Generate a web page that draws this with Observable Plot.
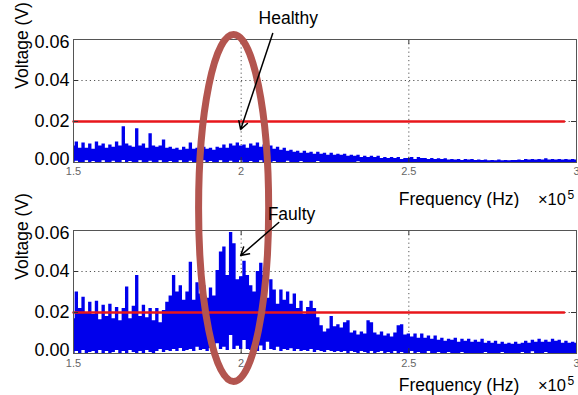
<!DOCTYPE html>
<html><head><meta charset="utf-8">
<script src="https://cdn.jsdelivr.net/npm/d3@7"></script>
<script src="https://cdn.jsdelivr.net/npm/@observablehq/plot@0.6"></script>
<style>
html,body{margin:0;padding:0;background:#fff;}
#chart{position:relative;width:578px;height:395px;overflow:hidden;font-family:"Liberation Sans",Arial,sans-serif;}
#chart svg{position:absolute;left:0;}
</style></head><body><div id="chart"></div>
<script>
// Frequency bins (x10^5 Hz)
const freq = [
1.50,1.51,1.52,1.53,1.54,1.55,1.56,1.57,1.58,1.59,
1.60,1.61,1.62,1.63,1.64,1.65,1.66,1.67,1.68,1.69,
1.70,1.71,1.72,1.73,1.74,1.75,1.76,1.77,1.78,1.79,
1.80,1.81,1.82,1.83,1.84,1.85,1.86,1.87,1.88,1.89,
1.90,1.91,1.92,1.93,1.94,1.95,1.96,1.97,1.98,1.99,
2.00,2.01,2.02,2.03,2.04,2.05,2.06,2.07,2.08,2.09,
2.10,2.11,2.12,2.13,2.14,2.15,2.16,2.17,2.18,2.19,
2.20,2.21,2.22,2.23,2.24,2.25,2.26,2.27,2.28,2.29,
2.30,2.31,2.32,2.33,2.34,2.35,2.36,2.37,2.38,2.39,
2.40,2.41,2.42,2.43,2.44,2.45,2.46,2.47,2.48,2.49,
2.50,2.51,2.52,2.53,2.54,2.55,2.56,2.57,2.58,2.59,
2.60,2.61,2.62,2.63,2.64,2.65,2.66,2.67,2.68,2.69,
2.70,2.71,2.72,2.73,2.74,2.75,2.76,2.77,2.78,2.79,
2.80,2.81,2.82,2.83,2.84,2.85,2.86,2.87,2.88,2.89,
2.90,2.91,2.92,2.93,2.94,2.95,2.96,2.97,2.98,2.99,
3.00];

// Healthy spectrum: upper and lower envelope (mV)
const healthyHigh = [
8,10,7,9.5,7,9,6.5,10,8,9,
7,8.5,7.5,10,8,17.5,9,8,7.5,16.5,
8,9,7,14,8,7.5,8,11,7,7.5,
6.5,7,6,7.5,6.5,9.5,6.5,7,6,7.5,
6.5,7,6,7.5,7,8.5,7,9,8,9.5,
8,8.5,7,9,8,9.5,7.5,8.5,7,8,
6.5,7.5,6,7,5.5,6,5,5.5,4.5,5.5,
4.5,5,4,5,4,4.5,3.5,4.5,3.5,4,
3.5,4,3,3.5,3,3.5,2.5,3,2.5,3,
2.5,3,2,2.5,2,2.5,2,2.5,1.5,2,
2,2.5,1.5,2.5,2,2,1.5,2,1.5,1.8,
1.5,1.8,1.2,1.5,1.2,1.5,1,1.5,1.2,1.5,
1,1.2,1,1.2,0.8,1,0.8,1.2,0.8,1,
0.8,1,1,1.2,1,1.5,1.2,1.5,1.2,1.5,
1.2,1.8,1.2,1.5,1.2,1.5,1.2,1.5,1.2,1.5,
1.2];
const healthyLow = [
0,0.6,0,0,0.8,0,0.5,0,0,0.8,
0,0,0.6,0,0,1,0,0.5,0,0,
0.8,0,0,0.6,0,0,0.8,0,0,0.5,
0,0,0.8,0,0,0.6,0,0,0,0.8,
0,0.5,0,0,0.8,0,0,0.6,0,0,
0.8,0,0,0.5,0,0,0.8,0,0,0,
0.5,0,0,0,0.6,0,0,0,0.5,0,
0,0,0,0.5,0,0,0,0,0,0,
0,0,0,0,0,0.4,0,0,0,0,
0,0,0,0,0,0,0,0,0,0,
0,0,0,0,0,0,0,0,0,0,
0,0,0,0,0,0,0,0,0,0,
0,0,0,0,0,0,0,0,0,0,
0,0,0,0,0,0,0,0,0,0,
0,0,0,0,0,0,0,0,0,0,
0];

// Faulty spectrum: upper and lower envelope (mV)
const faultyHigh = [
17,30,22,27.5,20,25,19,25.5,16.5,23.5,
18,24,17,22.5,16,22,32.5,17,23,38,
18,23.5,17.5,22,16,22,15,21,25,28,
38,30,33,26,30,44.5,26,34.5,29,33,
27,32,28,40.5,49.5,52,38,59,53.5,36,
37.5,45,38,33,30,40,44,38,27,36,
31,24,31,26,30,24,29,22,25.5,19,
22.5,25.5,22,17.5,13.5,10.5,12,18,13,14,
12.5,15,16,10,11,9,10.5,9.5,16,15,
10,9,10.5,8.5,9.5,8,10,13.5,14,9,
9.5,8,9.5,7.5,9.5,7.5,8.5,7,8.5,6.5,
7.5,6,7,6.5,7.5,5.5,7,6,7,5.5,
6.5,5.5,7,5,6,5,6,4.5,5.5,4.5,
5,4.5,5.5,4.5,5,6,5,6.5,5.5,7,
5.5,6.5,5.5,7,6,6.5,5,6,5,5.5,
5];
const faultyLow = [
0,1,0,1.5,0,0.5,1,0,1.5,0,
1,0,0.5,1.5,0,1,0,1.5,0.5,0,
1,0,1.5,0.5,0,1,2,0.5,1.5,1,
2,1,2.5,1,1.5,2,1,3,1.5,2,
1,2.5,1.5,4.7,2,3,1.5,8.8,2,3.5,
2,6.3,2,1.5,3,1,3.6,1.5,5.5,2,
1.5,3,1,2,1.5,2.3,1,2,1,1.5,
1,2,0.5,1.5,1,0.5,1.5,1,0.5,1,
0.5,1,0,1,0.5,0,1,0.5,0,1,
0,0.5,1,0,0.5,0,1,0,0.5,0,
0,1,0,0.5,0,0,1,0,0,0.5,
0,0,0.5,0,0,0,0.5,0,0,0,
0,0,0,0.5,0,0,0,0,0.5,0,
0,0,0,0,0.5,0,0,0.8,0,0,
0,0.5,0,0,0,0,0,0,0,0,
0];

const threshold = 0.02;           // V
const thresholdSpan = [1.5, 2.963];
const xTicks = [1.5, 2, 2.5, 3];
const xTickLabels = ["1.5", "2", "2.5", "3"];
const yTicks = [0, 0.02, 0.04, 0.06];
const yTickLabels = ["0.00", "0.02", "0.04", "0.06"];
const gridX = [2, 2.5];
const gridY = [0.02, 0.04];
const xLabel = "Frequency (Hz)";
const xExp = "×10";
const xExpSup = "5";
const yLabel = "Voltage (V)";
const panelLabels = ["Healthy", "Faulty"];

const FONT = "Liberation Sans, Arial, sans-serif";
const BLUE = "#0000ec";
const RED = "#e8161b";
const BROWN = "#b3554f";

function table(high, low) {
  return freq.map((f, i) => ({f, hi: high[i] / 1000, lo: low[i] / 1000}));
}

function yTickText(filter, dy) {
  const idx = yTicks.map((d, i) => i).filter(filter);
  return Plot.text(idx, {y: i => yTicks[i], text: i => yTickLabels[i], frameAnchor: "left", textAnchor: "end", dx: -4, dy, fontSize: 18});
}

function panel(o) {
  const data = table(o.high, o.low);
  const last = yTicks.length - 1;
  return Plot.plot({
    width: 578, height: o.height,
    marginLeft: 73, marginRight: 2, marginTop: o.marginTop, marginBottom: o.marginBottom,
    x: {domain: [1.5, 3], axis: null},
    y: {domain: [0, 0.06], axis: null},
    style: {fontFamily: FONT, background: "transparent", overflow: o.overflow},
    marks: [
      Plot.ruleX(gridX, {stroke: "#555", strokeDasharray: "1.2,3", strokeWidth: 1}),
      Plot.ruleY(gridY, {stroke: "#555", strokeDasharray: "1.2,3", strokeWidth: 1}),
      Plot.areaY(data, {x: "f", y1: "lo", y2: "hi", fill: BLUE, curve: "step"}),
      Plot.lineY(thresholdSpan.map(f => ({f, v: threshold})), {x: "f", y: "v", stroke: RED, strokeWidth: 2.5}),
      Plot.ruleY(gridY, {x1: 2.985, x2: 3, stroke: "#333"}),
      Plot.ruleY(gridY, {x1: 1.5, x2: 1.515, stroke: "#333"}),
      Plot.ruleX(gridX, {y1: 0.06, y2: 0.0576, stroke: "#333"}),
      Plot.ruleX(gridX, {y1: 0, y2: 0.0024, stroke: "#333"}),
      Plot.frame({stroke: "#555", strokeWidth: 1}),
      yTickText(i => i === 0, -3),
      yTickText(i => i > 0 && i < last, 0),
      yTickText(i => i === last, 2.5),
      Plot.text(xTicks, {x: d => d, text: (d, i) => xTickLabels[i], frameAnchor: "bottom", dy: o.tickDy, fontSize: 11, fill: "#666"}),
      Plot.text([yLabel], {frameAnchor: "left", y: 0.036, rotate: -90, dx: -51.5, fontSize: 17.5}),
      Plot.text([xLabel], {x: 2.47, frameAnchor: "bottom", textAnchor: "start", lineAnchor: "bottom", dy: o.labelDy, fontSize: 17.5}),
      Plot.text([xExp], {x: 2.885, frameAnchor: "bottom", textAnchor: "start", lineAnchor: "bottom", dy: o.labelDy, fontSize: 16.5}),
      Plot.text([xExpSup], {x: 2.973, frameAnchor: "bottom", textAnchor: "start", lineAnchor: "bottom", dy: o.labelDy - 6, fontSize: 12}),
      Plot.arrow([o.arrow], {x1: "x1", y1: "y1", x2: "x2", y2: "y2", stroke: "black", strokeWidth: 1.5, headLength: 9}),
      Plot.text([o.label], {x: o.labelPos[0], y: o.labelPos[1], textAnchor: "start", lineAnchor: "bottom", fontSize: 17.5})
    ]
  });
}

const TOP_H = 208;
const topPlot = panel({
  high: healthyHigh, low: healthyLow, height: TOP_H, marginTop: 39, marginBottom: 46,
  tickDy: 12, labelDy: 42, overflow: "hidden",
  arrow: {x1: 2.094, y1: 0.0629, x2: 1.9985, y2: 0.0161},
  label: panelLabels[0], labelPos: [2.052, 0.0678]
});
const botPlot = panel({
  high: faultyHigh, low: faultyLow, height: 395 - TOP_H, marginTop: 22, marginBottom: 42,
  tickDy: 13, labelDy: 37, overflow: "visible",
  arrow: {x1: 2.112, y1: 0.0639, x2: 1.9985, y2: 0.0478},
  label: panelLabels[1], labelPos: [2.079, 0.0649]
});

const chart = document.getElementById("chart");
topPlot.style.top = "0px";
botPlot.style.top = TOP_H + "px";
chart.appendChild(topPlot);
chart.appendChild(botPlot);

// Annotation ellipse spanning both panels, positioned through the panels' scales
const xs = topPlot.scale("x");
const cxF = 1.979, rxF = 0.1045;
const cx = xs.apply(cxF);
const rx = cx - xs.apply(cxF - rxF);
const yTopPage = topPlot.scale("y").apply(0.0622);
const yBotPage = botPlot.scale("y").apply(-0.0139) + TOP_H;
const cy = (yTopPage + yBotPage) / 2;
const ry = (yBotPage - yTopPage) / 2;

function addEllipse(svg, offset, h, id) {
  const s = d3.select(svg);
  s.insert("defs", ":first-child").append("clipPath").attr("id", id)
    .append("rect").attr("x", 0).attr("y", 0).attr("width", 578).attr("height", h);
  const before = svg.querySelector('g[aria-label="arrow"]');
  const el = document.createElementNS("http://www.w3.org/2000/svg", "ellipse");
  el.setAttribute("cx", cx);
  el.setAttribute("cy", cy - offset);
  el.setAttribute("rx", rx);
  el.setAttribute("ry", ry);
  el.setAttribute("fill", "none");
  el.setAttribute("stroke", BROWN);
  el.setAttribute("stroke-width", 7);
  el.setAttribute("clip-path", `url(#${id})`);
  svg.insertBefore(el, before);
}
addEllipse(topPlot, 0, TOP_H, "clipTop");
addEllipse(botPlot, TOP_H, 395 - TOP_H, "clipBot");
</script></body></html>
